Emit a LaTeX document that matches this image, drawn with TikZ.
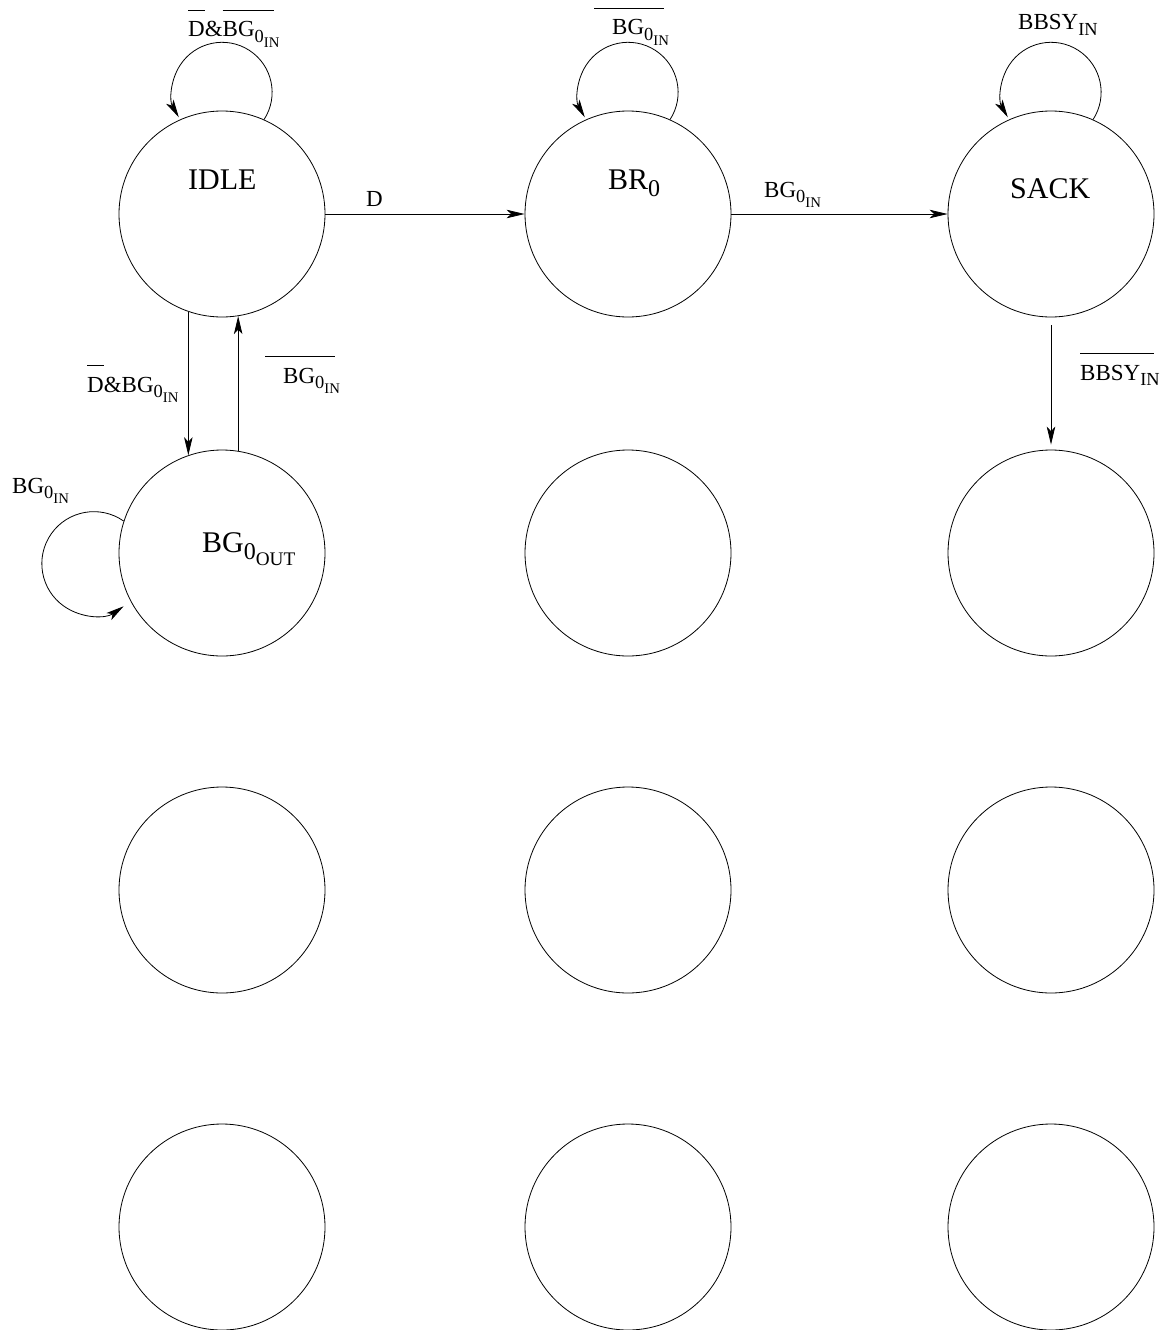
\documentclass[tikz,border=0pt]{standalone}
\usepackage{fontspec}
\setmainfont{Liberation Serif}
\usepackage{graphicx}
\usetikzlibrary{arrows.meta}
\newcommand\sbs[1]{\raisebox{-0.25em}{\scalebox{0.8}{#1}}}
\newcommand\ovb[3]{\setbox0\hbox{#3}\rlap{\kern#1\raisebox{1.12em}{\rule{\dimexpr\wd0+#2\relax}{1.6pt}}}\box0}
\tikzset{
  st/.style={circle, draw, minimum size=206pt, inner sep=0pt, line width=0.8pt},
  lbl/.style={anchor=base west, inner sep=0pt, font=\fontsize{23}{27}\selectfont},
  sname/.style={anchor=base west, inner sep=0pt, font=\fontsize{30}{36}\selectfont},
  arr/.style={line width=0.8pt, -{Stealth[length=18pt,width=8.5pt,inset=4.5pt]}}
}
\begin{document}
\begin{tikzpicture}[x=1pt,y=1pt]
\useasboundingbox (0,0) rectangle (1166,-1330);
% states
\node[st] (idle)  at (222,-214) {};
\node[st] (br)    at (628,-214) {};
\node[st] (sack)  at (1051,-214) {};
\node[st] (bgout) at (222,-553) {};
\node[st] (s22)   at (628,-553) {};
\node[st] (s23)   at (1051,-553) {};
\node[st] (s31)   at (222,-890) {};
\node[st] (s32)   at (628,-890) {};
\node[st] (s33)   at (1051,-890) {};
\node[st] (s41)   at (222,-1227) {};
\node[st] (s42)   at (628,-1227) {};
\node[st] (s43)   at (1051,-1227) {};
% state names
\node[sname] (nidle) at (188,-189) {IDLE};
\node[sname] (nbr)   at (608,-189) {BR\sbs{0}};
\node[sname] (nsack) at (1010,-198) {SACK};
\node[sname] (nbgo)  at (202,-552) {BG\sbs{0\sbs{OUT}}};
% transitions
\draw[arr] (idle) -- (br);
\draw[arr] (br) -- (sack);
\draw[arr] (idle.251) -- (bgout.109);
\draw[arr] (bgout.81) -- (idle.-81);
\draw[arr, shorten <=8pt, shorten >=5pt] (sack) -- (s23);
% self loops
\draw[arr] (idle.66) arc[start angle=-33, end angle=210, radius=50];
\draw[arr] (br.66) arc[start angle=-33, end angle=210, radius=50];
\draw[arr] (sack.66) arc[start angle=-33, end angle=210, radius=50];
\draw[arr] (bgout.162) arc[start angle=55, end angle=305, radius=52];
% labels
\node[lbl] (lidle) at (188,-37) {\ovb{0pt}{0pt}{D}\&\ovb{0pt}{-5pt}{BG\sbs{0\sbs{IN}}}};
\node[lbl] (lbr)   at (612,-35) {\ovb{-18pt}{13pt}{BG\sbs{0\sbs{IN}}}};
\node[lbl] (lsack) at (1018,-30) {BBSY\sbs{IN}};
\node[lbl] (ld)    at (366,-206) {D};
\node[lbl] (lbg)   at (764,-197) {BG\sbs{0\sbs{IN}}};
\node[lbl] (ldown) at (87,-392) {\ovb{0pt}{0pt}{D}\&BG\sbs{0\sbs{IN}}};
\node[lbl] (lup)   at (283,-383) {\ovb{-18pt}{13pt}{BG\sbs{0\sbs{IN}}}};
\node[lbl] (lbb)   at (1080,-380) {\ovb{0pt}{-6pt}{BBSY\sbs{IN}}};
\node[lbl] (lbgl)  at (12,-493) {BG\sbs{0\sbs{IN}}};
\end{tikzpicture}
\end{document}
